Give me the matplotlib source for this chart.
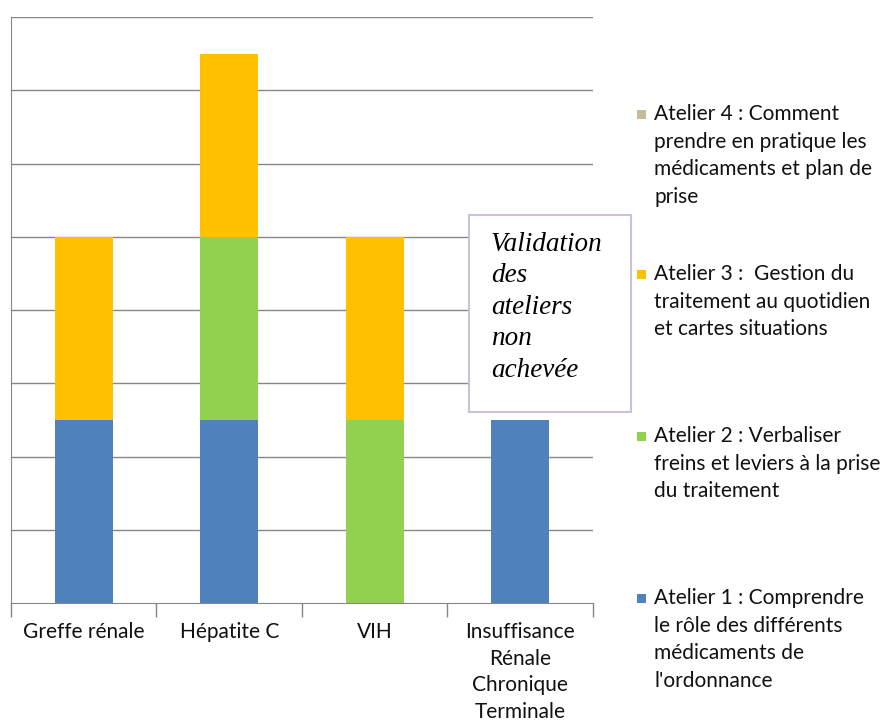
import numpy as np
import matplotlib
matplotlib.use("Agg")
import matplotlib.pyplot as plt
from matplotlib.patches import Rectangle

# ---- data ----
categories = ["Greffe rénale", "Hépatite C", "VIH",
              "Insuffisance\nRénale\nChronique\nTerminale"]
atelier1 = [2.5, 2.5, 0, 2.5]
atelier2 = [0, 2.5, 2.5, 0]
atelier3 = [2.5, 2.5, 2.5, 0]
atelier4 = [0, 0, 0, 0]

series_labels = [
    "Atelier 1 : Comprendre\nle rôle des différents\nmédicaments de\nl'ordonnance",
    "Atelier 2 : Verbaliser\nfreins et leviers à la prise\ndu traitement",
    "Atelier 3 :  Gestion du\ntraitement au quotidien\net cartes situations",
    "Atelier 4 : Comment\nprendre en pratique les\nmédicaments et plan de\nprise",
]
colors = ["#4F81BD", "#92D050", "#FFC000", "#C4BD97"]
note = "Validation\ndes\nateliers\nnon\nachevée"

# ---- figure ----
W, H = 885, 722
fig = plt.figure(figsize=(W / 100, H / 100), dpi=100)
ax = fig.add_axes([11 / W, 1 - 603 / H, (593 - 11) / W, (603 - 17) / H])

x = np.arange(len(categories))
bottom = np.zeros(len(categories))
for vals, col in zip([atelier1, atelier2, atelier3, atelier4], colors):
    ax.bar(x, vals, width=0.4, bottom=bottom, color=col, zorder=2)
    bottom += np.array(vals)

ax.set_xlim(-0.5, len(categories) - 0.5)
ax.set_ylim(0, 8)
ax.set_yticks(np.arange(1, 9))
ax.yaxis.grid(True, color="#868686", lw=1)
ax.set_yticklabels([])
ax.tick_params(axis="y", length=0)

ax.set_xticks(x)
ax.set_xticklabels(categories, fontsize=15, family="Lato", linespacing=1.4,
                   color="#111111")
ax.set_xticks(np.arange(-0.5, len(categories)), minor=True)
ax.tick_params(axis="x", which="major", length=0, pad=14)
ax.tick_params(axis="x", which="minor", length=10, color="#868686", width=1)

for s in ["top", "right"]:
    ax.spines[s].set_visible(False)
ax.spines["left"].set_color("#868686")
ax.spines["bottom"].set_color("#868686")

# ---- note box ----
fig.patches.append(Rectangle((469 / W, 1 - 412 / H), 162 / W, 197 / H,
                             transform=fig.transFigure, facecolor="white",
                             edgecolor="#CCC1DA", lw=1.5, zorder=3))
fig.text(491 / W, 1 - 232 / H, note, family="Liberation Serif", style="italic",
         fontsize=19.5, linespacing=1.34, va="top", ha="left", zorder=4)

# ---- legend (manual, reversed order) ----
first_line_y = [598, 436, 274, 114]
for lab, col, yy in zip(series_labels, colors, first_line_y):
    fig.patches.append(Rectangle((637 / W, 1 - (yy + 4.5) / H), 9 / W, 9 / H,
                                 transform=fig.transFigure, facecolor=col,
                                 edgecolor="none"))
    fig.text(654 / W, 1 - (yy - 10) / H, lab, family="Lato", fontsize=15,
             linespacing=1.47, va="top", ha="left", color="#111111")

fig.savefig("out.png", dpi=100)
